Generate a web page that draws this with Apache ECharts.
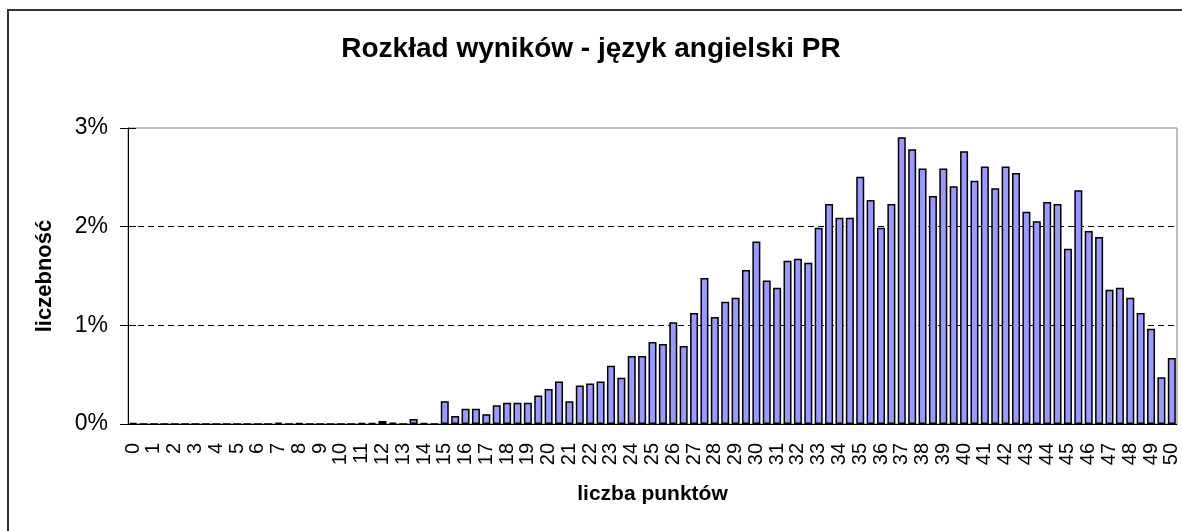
<!DOCTYPE html>
<html>
<head>
<meta charset="utf-8">
<script src="https://cdn.jsdelivr.net/npm/echarts@6/dist/echarts.min.js"></script>
<style>
  html, body { margin: 0; padding: 0; background: #fff; }
  #main { width: 1182px; height: 531px; }
</style>
</head>
<body>
<div id="main"></div>
<script>
// score points 0..50 in half-point steps
var points = ['0','0.5','1','1.5','2','2.5','3','3.5','4','4.5','5','5.5','6','6.5','7','7.5','8','8.5','9','9.5',
  '10','10.5','11','11.5','12','12.5','13','13.5','14','14.5','15','15.5','16','16.5','17','17.5','18','18.5','19','19.5',
  '20','20.5','21','21.5','22','22.5','23','23.5','24','24.5','25','25.5','26','26.5','27','27.5','28','28.5','29','29.5',
  '30','30.5','31','31.5','32','32.5','33','33.5','34','34.5','35','35.5','36','36.5','37','37.5','38','38.5','39','39.5',
  '40','40.5','41','41.5','42','42.5','43','43.5','44','44.5','45','45.5','46','46.5','47','47.5','48','48.5','49','49.5','50'];

// frequency in percent
var share = [0.01,0,0,0,0,0,0,0,0,0, 0,0,0,0,0.015,0,0.01,0,0,0,
  0,0,0.01,0.01,0.03,0.013,0,0.05,0.01,0, 0.23,0.08,0.155,0.155,0.1,0.19,0.215,0.215,0.215,0.29,
  0.355,0.43,0.23,0.39,0.41,0.43,0.59,0.47,0.69,0.69, 0.83,0.81,1.03,0.79,1.125,1.48,1.085,1.24,1.28,1.56,
  1.85,1.455,1.38,1.655,1.675,1.635,1.99,2.23,2.09,2.09, 2.505,2.27,1.99,2.23,2.905,2.785,2.59,2.31,2.59,2.41,
  2.765,2.465,2.61,2.39,2.61,2.545,2.15,2.055,2.25,2.23, 1.775,2.37,1.955,1.895,1.36,1.38,1.28,1.125,0.965,0.475,
  0.67];

var yTicks = [0, 1, 2, 3];

var chart = echarts.init(document.getElementById('main'));
var font = 'Liberation Sans, Arial, sans-serif';

var option = {
  backgroundColor: '#fff',
  animation: false,
  title: {
    text: 'Rozkład wyników - język angielski PR',
    left: 'center',
    top: 30,
    textStyle: { fontFamily: font, fontSize: 28, fontWeight: 'bold', color: '#000' }
  },
  graphic: [{
    type: 'rect',
    shape: { x: 8, y: 10, width: 1300, height: 700 },
    style: { fill: 'none', stroke: '#333', lineWidth: 2 },
    silent: true
  }],
  grid: {
    left: 128, right: 5, top: 128, bottom: 107,
    show: true, borderColor: '#808080', borderWidth: 1
  },
  xAxis: {
    type: 'category',
    data: points,
    name: 'liczba punktów',
    nameLocation: 'middle',
    nameGap: 60,
    nameTextStyle: { fontFamily: font, fontSize: 21, fontWeight: 'bold', color: '#000' },
    axisLine: { lineStyle: { color: '#000', width: 1 } },
    axisTick: { interval: 0, length: 8, lineStyle: { color: '#000' } },
    axisLabel: { interval: 1, rotate: 90, margin: 19, fontFamily: font, fontSize: 20, color: '#000' }
  },
  yAxis: [{
    type: 'value',
    min: yTicks[0], max: yTicks[yTicks.length - 1], interval: 1,
    name: 'liczebność',
    nameLocation: 'middle',
    nameGap: 72,
    nameTextStyle: { fontFamily: font, fontSize: 22, fontWeight: 'bold', color: '#000' },
    axisLine: { show: true, lineStyle: { color: '#000', width: 1 } },
    axisTick: { show: true, length: 8, lineStyle: { color: '#000' } },
    axisLabel: { formatter: '{value}%', margin: 20, fontFamily: font, fontSize: 23, color: '#000' },
    splitLine: {
      show: true,
      lineStyle: { color: ['rgba(0,0,0,0)', '#000', '#000', 'rgba(0,0,0,0)'], type: [6, 4], width: 1 }
    }
  }, {
    type: 'value',
    position: 'left',
    min: yTicks[0], max: yTicks[yTicks.length - 1], interval: 1,
    axisLine: { show: false },
    axisTick: { show: true, inside: true, length: 8, lineStyle: { color: '#000' } },
    axisLabel: { show: false },
    splitLine: { show: false }
  }],
  series: [{
    type: 'bar',
    data: share,
    barWidth: 8,
    itemStyle: { color: '#9999FF', borderColor: '#000', borderWidth: 1.5 }
  }]
};

chart.setOption(option);
</script>
</body>
</html>
